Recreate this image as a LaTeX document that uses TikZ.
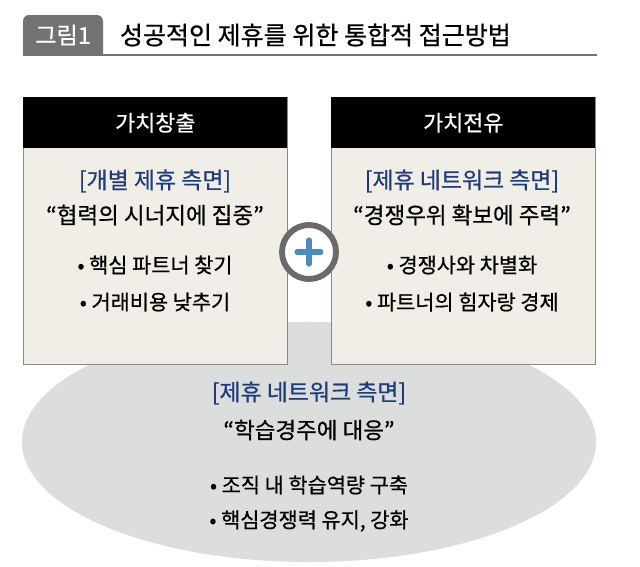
\documentclass[tikz,border=0pt]{standalone}
\usepackage{fontspec}
\setmainfont{Noto Sans CJK KR}[FakeBold=0.7]
\usepackage{tikz}
\usetikzlibrary{shapes.geometric}
\definecolor{GrisTab}{HTML}{727272}
\definecolor{Beige}{HTML}{F1EEE8}
\definecolor{GrisBorde}{HTML}{8A8A8A}
\definecolor{GrisElipse}{HTML}{DCDDDD}
\definecolor{AzulOscuro}{HTML}{1F3C7A}
\definecolor{AzulMas}{HTML}{4A8CC2}
\definecolor{GrisAro}{HTML}{6A6A6A}
\tikzset{
  cuerpo/.style  = {draw=GrisBorde, fill=Beige, minimum width=6.6cm,
                    minimum height=6.675cm, inner sep=0pt, anchor=north west},
  cabeza/.style  = {fill=black, text=white, minimum width=6.6cm,
                    minimum height=1.275cm, inner sep=0pt, anchor=north west,
                    font=\fontsize{15.5}{18}\selectfont},
  azul/.style    = {text=AzulOscuro, font=\fontsize{16.3}{19}\selectfont},
  lema/.style    = {font=\fontsize{16}{19}\selectfont},
  punto/.style   = {font=\fontsize{14.8}{18}\selectfont},
  titulo/.style  = {font=\fontsize{17.8}{21}\selectfont, anchor=west},
}

\begin{document}
\begin{tikzpicture}[x=0.025cm,y=-0.025cm]
  \useasboundingbox (0,0) rectangle (640,567);
  % cabecera
  \fill[GrisTab] (23,55) [rounded corners=0.15cm] -- (23,15) -- (103,15)
    [sharp corners] -- (103,55) -- cycle;
  \node[text=white, font=\fontsize{16.5}{19}\selectfont] (fig) at (63,35) {그림1};
  \node[titulo] (tit) at (115,35) {성공적인 제휴를 위한 통합적 접근방법};
  \draw[GrisTab, line width=1.3pt] (23,55) -- (597,55);
  % elipse de fondo
  \node[ellipse, fill=GrisElipse, minimum width=14.35cm, minimum height=6cm,
        inner sep=0pt] (fondo) at (309,442) {};
  % cajas
  \node[cuerpo] (izq) at (23,97) {};
  \node[cabeza] (izqcab) at (23,97) {가치창출};
  \node[cuerpo] (der) at (331,97) {};
  \node[cabeza] (dercab) at (331,97) {가치전유};
  \node[azul]  (izq1) at (155,181) {[개별 제휴 측면]};
  \node[lema]  (izq2) at (155,215) {“협력의 시너지에 집중”};
  \node[punto] (izq3) at (155,265) {• 핵심 파트너 찾기};
  \node[punto] (izq4) at (155,302) {• 거래비용 낮추기};
  \node[azul]  (der1) at (462,181) {[제휴 네트워크 측면]};
  \node[lema]  (der2) at (462,215) {“경쟁우위 확보에 주력”};
  \node[punto] (der3) at (462,265) {• 경쟁사와 차별화};
  \node[punto] (der4) at (462,302) {• 파트너의 힘자랑 경제};
  % signo mas
  \node[circle, draw=GrisAro, line width=4.2pt, fill=white, minimum size=1.35cm,
        inner sep=0pt] (mas) at (309,252) {};
  \draw[AzulMas, line width=3.6pt, line cap=round]
    ([xshift=-0.3cm]mas.center) -- ([xshift=0.3cm]mas.center)
    ([yshift=-0.3cm]mas.center) -- ([yshift=0.3cm]mas.center);
  % texto de la elipse
  \node[azul]  (el1) at (309,393) {[제휴 네트워크 측면]};
  \node[lema]  (el2) at (309,430) {“학습경주에 대응”};
  \node[punto] (el3) at (309,485) {• 조직 내 학습역량 구축};
  \node[punto] (el4) at (309,521) {• 핵심경쟁력 유지, 강화};
\end{tikzpicture}
\end{document}
